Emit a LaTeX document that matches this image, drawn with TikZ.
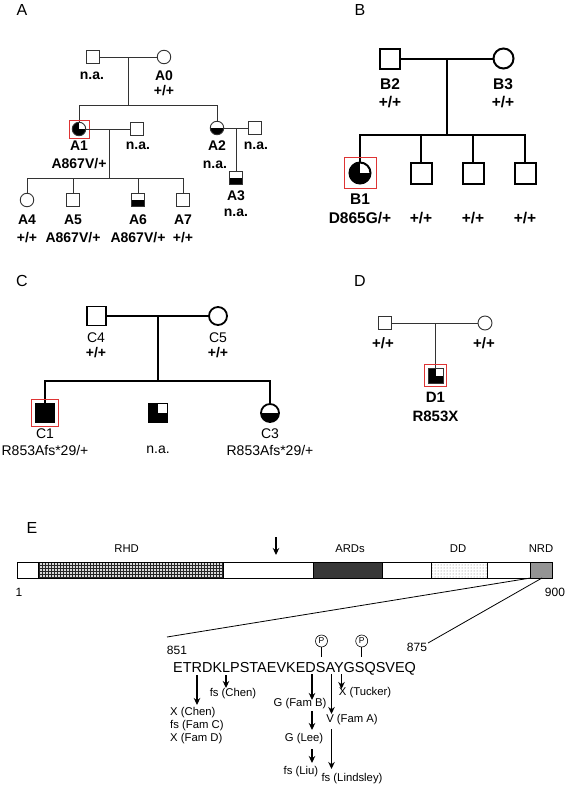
\documentclass[tikz,border=0pt]{standalone}
\usepackage{fontspec}
\setmainfont{Liberation Sans}
\usetikzlibrary{arrows.meta,patterns}
\definecolor{redb}{RGB}{222,52,52}
\begin{document}
\begin{tikzpicture}[x=1pt,y=-1pt,
  panel/.style={font=\fontsize{16}{16}\selectfont, inner sep=0pt},
  pedA/.style={draw=black!80, line width=0.9pt, fill=white, inner sep=0pt},
  sqA/.style={pedA, rectangle, minimum size=13pt},
  ciA/.style={pedA, circle, minimum size=13.5pt},
  lineA/.style={draw=black!80, line width=0.9pt},
  sqB/.style={draw=black, line width=2pt, fill=white, rectangle, minimum size=20pt, inner sep=0pt},
  ciB/.style={draw=black, line width=2pt, fill=white, circle, minimum size=20pt, inner sep=0pt},
  lineB/.style={draw=black, line width=2pt},
  sqC/.style={draw=black, line width=1.8pt, fill=white, rectangle, minimum size=19pt, inner sep=0pt},
  ciC/.style={draw=black, line width=1.8pt, fill=white, circle, minimum size=18pt, inner sep=0pt},
  lineC/.style={draw=black, line width=1.8pt},
  botfill/.style={path picture={\fill[black] (path picture bounding box.west) rectangle (path picture bounding box.south east);}},
  quarter/.style={fill=black, path picture={\fill[white] (path picture bounding box.center) rectangle (path picture bounding box.north east);}},
  redbox/.style={draw=redb, line width=0.9pt, rectangle, inner sep=0pt},
  tA/.style={font=\bfseries\fontsize{14}{14}\selectfont, inner sep=0pt},
  tB/.style={font=\bfseries\fontsize{15.5}{15.5}\selectfont, inner sep=0pt},
  tC/.style={font=\fontsize{14}{14}\selectfont, inner sep=0pt},
  tCb/.style={font=\bfseries\fontsize{14}{14}\selectfont, inner sep=0pt},
  tD/.style={font=\bfseries\fontsize{15}{15}\selectfont, inner sep=0pt},
  tE/.style={font=\fontsize{11.3}{11.3}\selectfont, inner sep=0pt},
  tdom/.style={font=\fontsize{11.3}{11.3}\selectfont, inner sep=0pt},
  tnum/.style={font=\fontsize{12}{12}\selectfont, inner sep=0pt},
  seqtext/.style={font=\fontsize{14.45}{14.45}\selectfont, inner sep=0pt},
  pcirc/.style={draw=black, line width=0.6pt, circle, minimum size=12pt, inner sep=0pt, font=\fontsize{8.5}{8.5}\selectfont},
  arr/.style={line width=1.7pt, -{Stealth[length=7pt,width=6.5pt]}},
]
\useasboundingbox (0,0) rectangle (567,787);

% ---------------- Panel A ----------------
\node[panel] (PA) at (22,10) {A};
\node[sqA] (Af) at (92.5,57) {};
\node[ciA] (A0) at (164,57) {};
\draw[lineA] (Af) -- (A0);
\coordinate (Am) at (128,57);
\coordinate (As) at (128,105);
\draw[lineA] (Am) -- (As);
\node[ciA, quarter] (A1) at (79,129) {};
\node[ciA, botfill] (A2) at (217,128) {};
\draw[lineA] (A1.north) -- (A1 |- As) -- (A2 |- As) -- (A2.north);
\node[redbox, minimum width=20pt, minimum height=18pt] (A1r) at (A1) {};
\node[sqA] (A1p) at (137,129) {};
\draw[lineA] (A1) -- (A1p);
\coordinate (A1m) at (109,129);
\coordinate (A1s) at (109,178);
\draw[lineA] (A1m) -- (A1s);
\node[ciA] (A4) at (27,200) {};
\node[sqA] (A5) at (73,200) {};
\node[sqA, botfill] (A6) at (138,200) {};
\node[sqA] (A7) at (183,200) {};
\draw[lineA] (A4.north) -- (A4 |- A1s) -- (A7 |- A1s) -- (A7.north);
\draw[lineA] (A5.north) -- (A5 |- A1s);
\draw[lineA] (A6.north) -- (A6 |- A1s);
\node[sqA] (A2p) at (255,128) {};
\draw[lineA] (A2) -- (A2p);
\coordinate (A2m) at (236,128);
\node[sqA, botfill] (A3) at (236,178) {};
\draw[lineA] (A2m) -- (A3.north);

\node[tA] (Afl) at (92,76) {n.a.};
\node[tA] (A0l) at (164,76) {A0};
\node[tA] (A0g) at (164,91) {+/+};
\node[tA] (A1l) at (79,146) {A1};
\node[tA] (A1g) at (79,164) {A867V/+};
\node[tA] (A1pl) at (138,146) {n.a.};
\node[tA] (A2l) at (217,146) {A2};
\node[tA] (A2g) at (215,165) {n.a.};
\node[tA] (A2pl) at (256,146) {n.a.};
\node[tA] (A3l) at (236,196) {A3};
\node[tA] (A3g) at (236,213) {n.a.};
\node[tA] (A4l) at (27,220) {A4};
\node[tA] (A4g) at (27,238) {+/+};
\node[tA] (A5l) at (73,220) {A5};
\node[tA] (A5g) at (73,238) {A867V/+};
\node[tA] (A6l) at (138,220) {A6};
\node[tA] (A6g) at (138,238) {A867V/+};
\node[tA] (A7l) at (183,220) {A7};
\node[tA] (A7g) at (183,238) {+/+};

% ---------------- Panel B ----------------
\node[panel] (PB) at (360,10) {B};
\node[sqB] (B2) at (390,58.5) {};
\node[ciB] (B3) at (503.5,58.5) {};
\draw[lineB] (B2) -- (B3);
\coordinate (Bm) at (447,58.5);
\coordinate (Bs) at (447,135);
\draw[lineB] (Bm) -- (Bs);
\node[ciB, quarter, minimum size=21pt] (B1) at (360,173) {};
\node[sqB, minimum size=21pt] (B4) at (421,173) {};
\node[sqB, minimum size=21pt] (B5) at (473,173) {};
\node[sqB, minimum size=21pt] (B6) at (525,173) {};
\draw[lineB] (B1.north) -- (B1 |- Bs) -- (B6 |- Bs) -- (B6.north);
\draw[lineB] (B4.north) -- (B4 |- Bs);
\draw[lineB] (B5.north) -- (B5 |- Bs);
\node[redbox, minimum width=32pt, minimum height=31pt] (B1r) at (B1) {};

\node[tB] (B2l) at (390,84) {B2};
\node[tB] (B2g) at (390,102) {+/+};
\node[tB] (B3l) at (503,84) {B3};
\node[tB] (B3g) at (503,102) {+/+};
\node[tB] (B1l) at (360,199) {B1};
\node[tB] (B1g) at (360,218) {D865G/+};
\node[tB] (B4g) at (421,218) {+/+};
\node[tB] (B5g) at (473,218) {+/+};
\node[tB] (B6g) at (525,218) {+/+};

% ---------------- Panel C ----------------
\node[panel] (PC) at (22,281) {C};
\node[sqC] (C4) at (96.5,316) {};
\node[ciC] (C5) at (218,316) {};
\draw[lineC] (C4) -- (C5);
\coordinate (Cm) at (158,316);
\coordinate (Cs) at (158,381);
\draw[lineC] (Cm) -- (Cs);
\node[sqC, fill=black, minimum size=18pt] (C1) at (45,413) {};
\node[sqC, quarter] (C2) at (158,413) {};
\node[ciC, botfill] (C3) at (270,413) {};
\draw[lineC] (C1.north) -- (C1 |- Cs) -- (C3 |- Cs) -- (C3.north);
\node[redbox, minimum width=27pt, minimum height=27pt] (C1r) at (C1) {};

\node[tC] (C4l) at (96,338) {C4};
\node[tCb] (C4g) at (96,353) {+/+};
\node[tC] (C5l) at (218,338) {C5};
\node[tCb] (C5g) at (218,353) {+/+};
\node[tC] (C1l) at (45,434) {C1};
\node[tC] (C1g) at (45,450) {R853Afs*29/+};
\node[tC] (C2g) at (158,450) {n.a.};
\node[tC] (C3l) at (270,434) {C3};
\node[tC] (C3g) at (270,450) {R853Afs*29/+};

% ---------------- Panel D ----------------
\node[panel] (PD) at (360,281) {D};
\node[sqA] (Dm) at (385,323) {};
\node[ciA, minimum size=14pt] (Df) at (485,323) {};
\draw[lineA] (Dm) -- (Df);
\coordinate (Dc) at (435.5,323);
\node[sqA, quarter, minimum size=15pt] (D1) at (435.5,375.5) {};
\draw[lineA] (Dc) -- (D1.north);
\node[redbox, minimum width=22pt, minimum height=22pt] (D1r) at (D1) {};
\node[tD] (Dmg) at (383,343) {+/+};
\node[tD] (Dfg) at (484,343) {+/+};
\node[tD] (D1l) at (435.5,397) {D1};
\node[tD] (D1g) at (435.5,416) {R853X};

% ---------------- Panel E ----------------
\node[panel] (PE) at (32,528) {E};
\fill[white] (17,562) rectangle (552,578);
\fill[black!15] (38,562) rectangle (223.5,578);
\fill[pattern=grid, pattern color=black!85] (38,562) rectangle (223.5,578);
\draw[line width=0.6pt] (38,562) rectangle (223.5,578);
\fill[black!78] (313,562) rectangle (382,578);
\draw[line width=0.6pt] (313,562) rectangle (382,578);
\fill[pattern=dots, pattern color=black!55] (431,562) rectangle (487,578);
\draw[line width=0.6pt] (431,562) rectangle (487,578);
\fill[black!42] (530.5,562) rectangle (552,578);
\draw[line width=0.6pt] (530.5,562) rectangle (552,578);
\draw[line width=0.8pt] (17,562) rectangle (552,578);

\node[tdom] (RHD) at (126.6,549) {RHD};
\node[tdom] (ARD) at (350,549) {ARDs};
\node[tdom] (DD) at (458,549) {DD};
\node[tdom] (NRD) at (541,549) {NRD};
\coordinate (topA1) at (276,537);
\coordinate (topA2) at (276,555);
\draw[arr] (topA1) -- (topA2);
\node[tnum] (n1) at (19,592) {1};
\node[tnum] (n900) at (555,592) {900};

\coordinate (nrdL) at (530.5,578);
\coordinate (nrdR) at (542,578);
\coordinate (zL) at (167,637);
\coordinate (zR) at (428,643);
\draw[line width=0.8pt] (nrdL) -- (zL);
\draw[line width=0.8pt] (nrdR) -- (zR);

\node[tnum] (n851) at (177,650) {851};
\node[tnum] (n875) at (417,647) {875};
\node[seqtext, anchor=base west] (seq) at (173,672.2) {ETRDKLPSTAEVKEDSAYGSQSVEQ};

% phosphorylation sites
\node[pcirc] (P1) at (321.5,641) {P};
\node[pcirc] (P2) at (361.7,641) {P};
\coordinate (S866) at (321.5,657);
\coordinate (S870) at (361.7,657);
\draw[line width=0.6pt] (P1.south) -- (S866);
\draw[line width=0.6pt] (P2.south) -- (S870);

% mutation arrows
\coordinate (aR1) at (197,675);   \coordinate (aR2) at (197,705);
\coordinate (aL1) at (226,675);   \coordinate (aL2) at (226,688);
\coordinate (aD1) at (312,674);   \coordinate (aD2) at (312,700);
\coordinate (aD3) at (312,711);   \coordinate (aD4) at (312,730);
\coordinate (aD5) at (312,749);   \coordinate (aD6) at (312,763);
\coordinate (aA1) at (331.5,674); \coordinate (aA2) at (331.5,714);
\coordinate (aA3) at (331.5,729); \coordinate (aA4) at (331.5,769);
\coordinate (aY1) at (341.5,674); \coordinate (aY2) at (341.5,689);
\draw[arr] (aR1) -- (aR2);
\draw[arr] (aL1) -- (aL2);
\draw[arr] (aD1) -- (aD2);
\draw[arr] (aD3) -- (aD4);
\draw[arr] (aD5) -- (aD6);
\draw[arr] (aA1) -- (aA2);
\draw[arr] (aA3) -- (aA4);
\draw[arr] (aY1) -- (aY2);

\node[tE, anchor=west] (mR1) at (170,713) {X (Chen)};
\node[tE, anchor=west] (mR2) at (170,726) {fs (Fam C)};
\node[tE, anchor=west] (mR3) at (170,739) {X (Fam D)};
\node[tE] (mL) at (233,694) {fs (Chen)};
\node[tE] (mD1) at (300,704) {G (Fam B)};
\node[tE] (mD2) at (304,739) {G (Lee)};
\node[tE] (mD3) at (301,772) {fs (Liu)};
\node[tE] (mA1) at (352,720) {V (Fam A)};
\node[tE] (mA2) at (352,779) {fs (Lindsley)};
\node[tE] (mY) at (365,693) {X (Tucker)};
\end{tikzpicture}
\end{document}
